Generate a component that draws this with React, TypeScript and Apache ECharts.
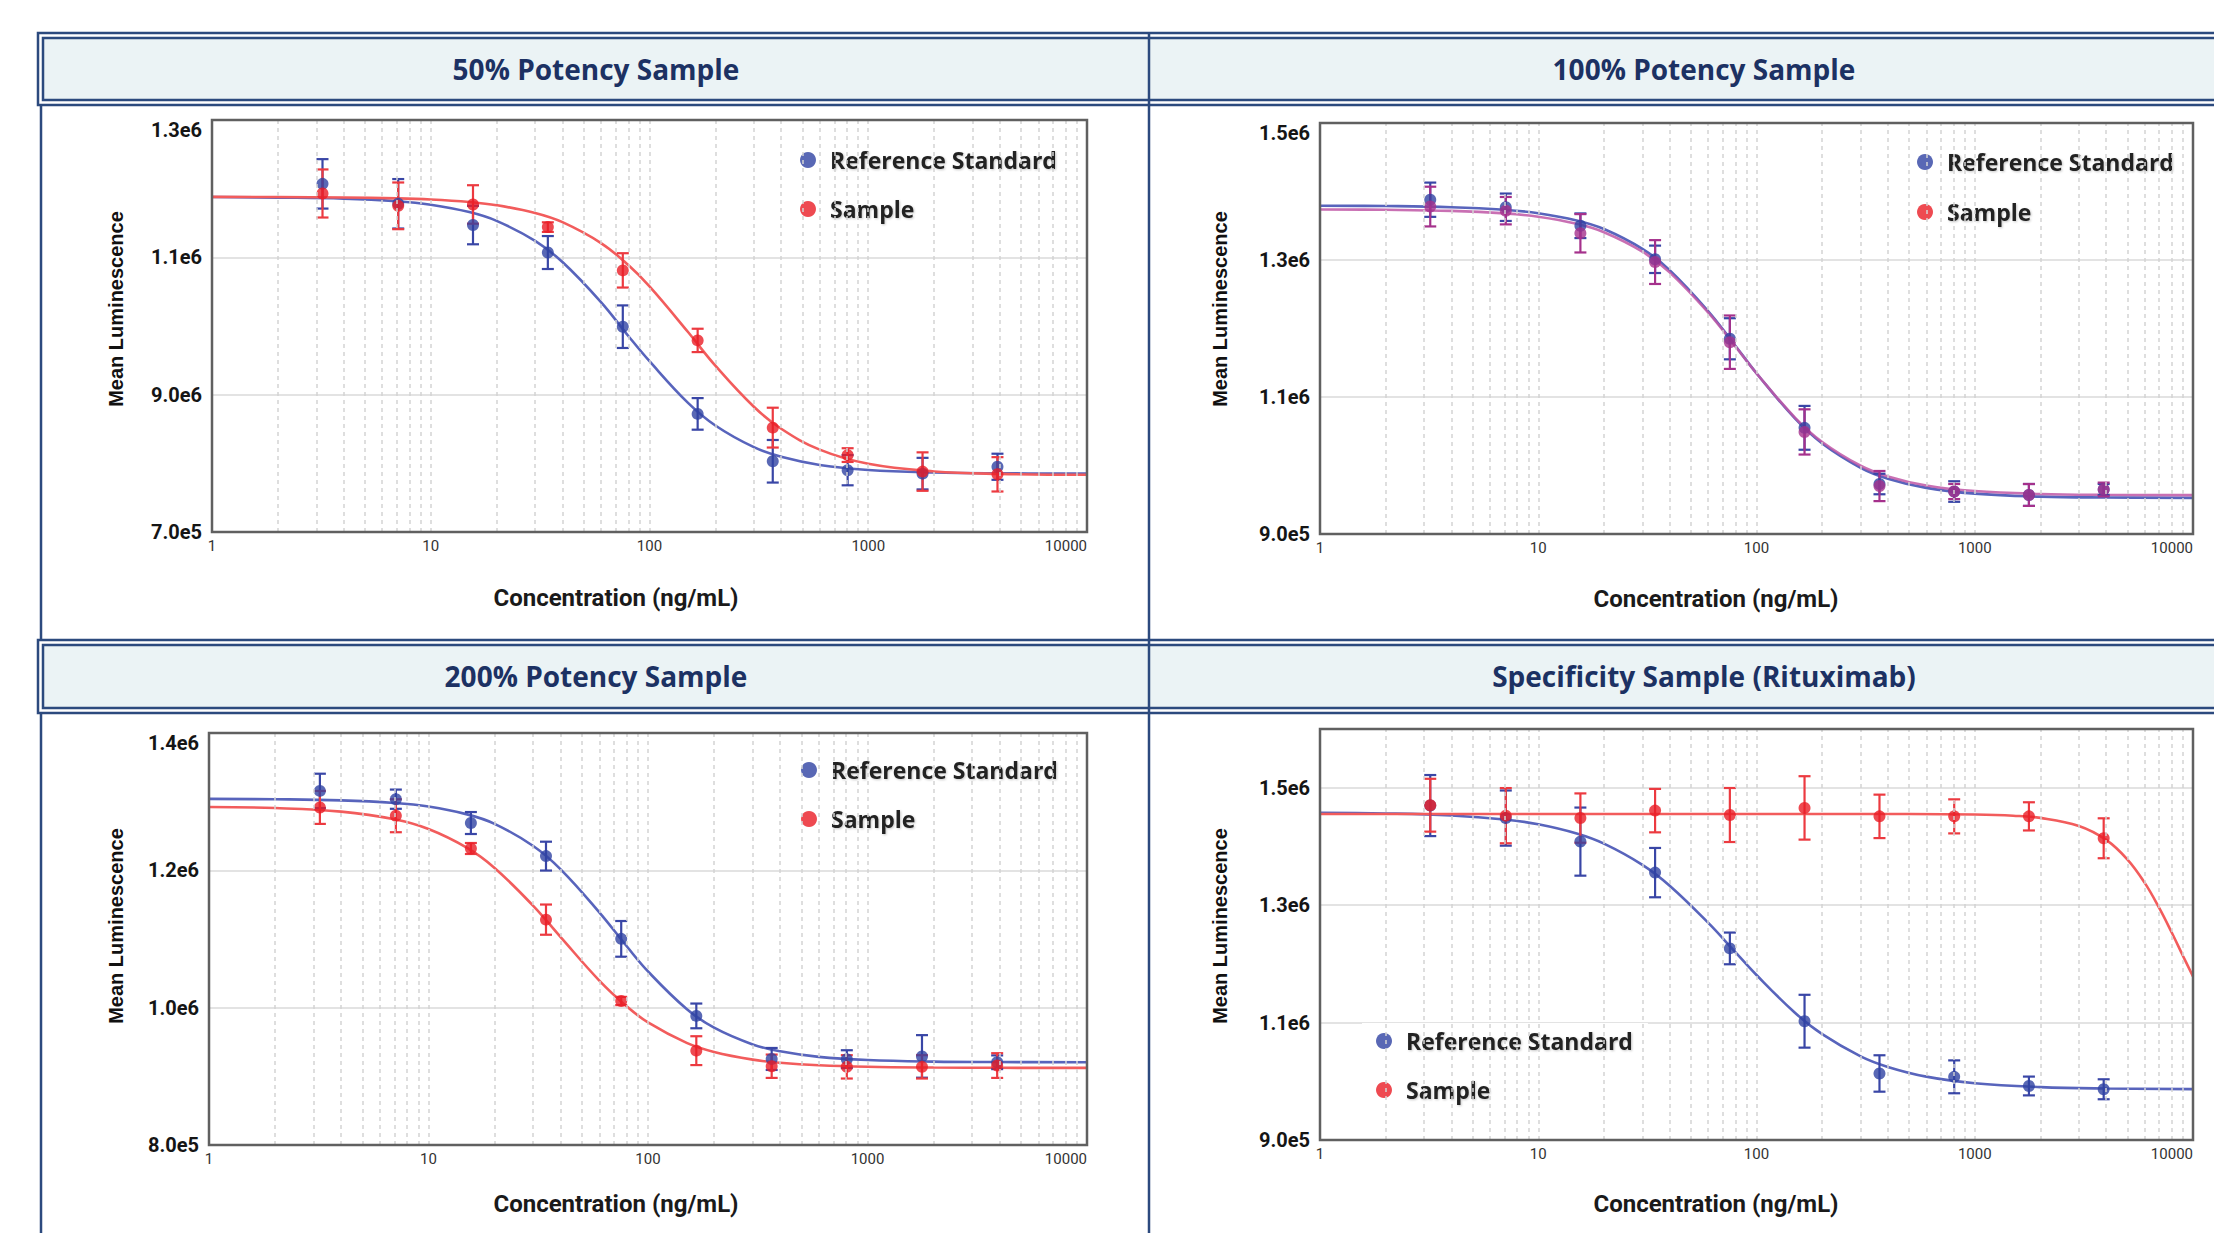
import React, { useEffect, useRef } from 'react';
import * as echarts from 'echarts';

// ---------- data ----------
const conc = [3.2, 7.1, 15.6, 34.3, 75.5, 166, 366, 805, 1771, 3897];
const fitX = [1, 2, 4, 7, 10, 15, 20, 30, 40, 60, 80, 100, 150, 200, 300, 400, 600, 1000, 2000, 4000, 10000];
const specSampleFitX = [1, 10, 100, 300, 500, 1000, 1500, 2000, 3000, 4000, 5000, 6000, 7000, 8000, 9000, 10000];
const gridLineX = [2, 3, 4, 5, 6, 7, 8, 9, 10, 20, 30, 40, 50, 60, 70, 80, 90, 100, 200, 300, 400, 500, 600, 700, 800, 900, 1000, 2000, 3000, 4000, 5000, 6000, 7000, 8000, 9000];
const xTickLabels = ['1', '10', '100', '1000', '10000'];

const titles = ['50% Potency Sample', '100% Potency Sample', '200% Potency Sample', 'Specificity Sample (Rituximab)'];
const seriesNames = ['Reference Standard', 'Sample'];

// 50% potency
const p50YLabels = ['7.0e5', '9.0e6', '1.1e6', '1.3e6'];
const p50RefMean = [1.207e6, 1.178e6, 1.147e6, 1.107e6, 0.999e6, 0.872e6, 0.803e6, 0.790e6, 0.785e6, 0.795e6];
const p50RefErr = [36e3, 36e3, 28e3, 24e3, 31e3, 23e3, 31e3, 22e3, 23e3, 19e3];
const p50SamMean = [1.193e6, 1.175e6, 1.177e6, 1.144e6, 1.081e6, 0.979e6, 0.852e6, 0.812e6, 0.788e6, 0.784e6];
const p50SamErr = [35e3, 34e3, 28e3, 7e3, 25e3, 17e3, 29e3, 10e3, 28e3, 25e3];
const p50RefFit = [1.1878e6, 1.187e6, 1.1855e6, 1.1817e6, 1.1766e6, 1.1659e6, 1.1531e6, 1.124e6, 1.0931e6, 1.0348e6, 0.9855e6, 0.9487e6, 0.888e6, 0.8551e6, 0.8235e6, 0.8095e6, 0.7977e6, 0.7904e6, 0.7867e6, 0.7855e6, 0.7851e6];
const p50SamFit = [1.188e6, 1.1878e6, 1.1872e6, 1.1859e6, 1.1842e6, 1.1805e6, 1.1759e6, 1.1646e6, 1.1512e6, 1.1208e6, 1.0887e6, 1.0576e6, 0.9912e6, 0.9423e6, 0.8824e6, 0.8504e6, 0.8199e6, 0.7993e6, 0.7882e6, 0.7846e6, 0.7833e6];

// 100% potency
const p100YLabels = ['9.0e5', '1.1e6', '1.3e6', '1.5e6'];
const p100RefMean = [1.388e6, 1.377e6, 1.350e6, 1.301e6, 1.185e6, 1.055e6, 0.973e6, 0.962e6, 0.957e6, 0.965e6];
const p100RefErr = [25e3, 20e3, 18e3, 20e3, 30e3, 32e3, 15e3, 15e3, 16e3, 8e3];
const p100SamMean = [1.378e6, 1.372e6, 1.339e6, 1.297e6, 1.180e6, 1.049e6, 0.970e6, 0.962e6, 0.957e6, 0.965e6];
const p100SamErr = [29e3, 20e3, 28e3, 32e3, 39e3, 33e3, 22e3, 11e3, 16e3, 10e3];
const p100RefFit = [1.3793e6, 1.3788e6, 1.3771e6, 1.3733e6, 1.3683e6, 1.3578e6, 1.3453e6, 1.3163e6, 1.2853e6, 1.2255e6, 1.1749e6, 1.1347e6, 1.0687e6, 1.0322e6, 0.9967e6, 0.9808e6, 0.9673e6, 0.9589e6, 0.9546e6, 0.9533e6, 0.9528e6];
const p100SamFit = [1.3738e6, 1.3733e6, 1.3717e6, 1.368e6, 1.3631e6, 1.3528e6, 1.3405e6, 1.3122e6, 1.2819e6, 1.2234e6, 1.1739e6, 1.1346e6, 1.07e6, 1.0343e6, 0.9996e6, 0.9841e6, 0.9708e6, 0.9627e6, 0.9585e6, 0.9572e6, 0.9567e6];

// 200% potency
const p200YLabels = ['8.0e5', '1.0e6', '1.2e6', '1.4e6'];
const p200RefMean = [1.3157e6, 1.3036e6, 1.2689e6, 1.2207e6, 1.1002e6, 0.988e6, 0.9253e6, 0.925e6, 0.929e6, 0.9205e6];
const p200RefErr = [25e3, 14e3, 16e3, 21e3, 26e3, 18e3, 16e3, 13e3, 31e3, 10e3];
const p200SamMean = [1.2916e6, 1.2795e6, 1.2318e6, 1.1282e6, 1.0097e6, 0.9374e6, 0.9147e6, 0.9138e6, 0.9138e6, 0.9157e6];
const p200SamErr = [24e3, 24e3, 8e3, 22e3, 6e3, 21e3, 17e3, 17e3, 17e3, 18e3];
const p200RefFit = [1.304e6, 1.3035e6, 1.3019e6, 1.2981e6, 1.2929e6, 1.2815e6, 1.2677e6, 1.2355e6, 1.2015e6, 1.1388e6, 1.0894e6, 1.0528e6, 0.9981e6, 0.9709e6, 0.9465e6, 0.9365e6, 0.9284e6, 0.9237e6, 0.9214e6, 0.9208e6, 0.9205e6];
const p200SamFit = [1.2923e6, 1.2907e6, 1.2855e6, 1.2743e6, 1.2601e6, 1.2326e6, 1.2034e6, 1.1483e6, 1.1027e6, 1.0395e6, 1.0019e6, 0.9785e6, 0.9487e6, 0.9355e6, 0.9243e6, 0.9198e6, 0.9161e6, 0.9139e6, 0.9128e6, 0.9124e6, 0.9123e6];

// Specificity (Rituximab)
const specYLabels = ['9.0e5', '1.1e6', '1.3e6', '1.5e6'];
const specRefMean = [1.4696e6, 1.4483e6, 1.4082e6, 1.3554e6, 1.2263e6, 1.1023e6, 1.0133e6, 1.0076e6, 0.992e6, 0.9864e6];
const specRefErr = [52e3, 47e3, 58e3, 42e3, 27e3, 45e3, 31e3, 28e3, 16e3, 17e3];
const specSamMean = [1.4702e6, 1.4524e6, 1.4483e6, 1.461e6, 1.4535e6, 1.4656e6, 1.4512e6, 1.4512e6, 1.4512e6, 1.4139e6];
const specSamErr = [45e3, 47e3, 42e3, 37e3, 46e3, 54e3, 37e3, 29e3, 24e3, 34e3];
const specRefFit = [1.4574e6, 1.4562e6, 1.4528e6, 1.446e6, 1.4378e6, 1.4221e6, 1.4048e6, 1.3687e6, 1.3332e6, 1.2702e6, 1.22e6, 1.181e6, 1.1168e6, 1.0802e6, 1.0425e6, 1.0245e6, 1.0079e6, 0.9966e6, 0.9901e6, 0.9877e6, 0.9867e6];
const specSamFit = [1.4552e6, 1.4552e6, 1.4552e6, 1.4552e6, 1.4552e6, 1.4543e6, 1.4523e6, 1.4486e6, 1.4348e6, 1.4111e6, 1.378e6, 1.3383e6, 1.2953e6, 1.2529e6, 1.2134e6, 1.1784e6];

// ---------- styling ----------
const NAVY = '#2c4a7e';
const BLUE = '#2f42a3';
const BLUE_LINE = '#5864bc';
const BLUE_ERR = '#3946a6';
const RED = '#ea1d25';
const RED_LINE = '#f25c5c';
const RED_ERR = '#ec3a40';
const MAGENTA = '#a5318c';
const MAGENTA_LINE = '#bf57a6';

const panels = [
  {
    title: titles[0], titlePos: [596, 69], grid: [212, 120, 875, 412], yMin: 7e5, yMax: 1.3e6, yLabels: p50YLabels,
    ref: p50RefMean, refErr: p50RefErr, refFit: p50RefFit,
    sam: p50SamMean, samErr: p50SamErr, samFitX: fitX, samFit: p50SamFit,
    samColor: RED, samLine: RED_LINE, samErrColor: RED_ERR,
    legend: { left: 786, top: 124, padding: [22, 10, 6, 14], gap: 21 },
    yName: [116, 309], xName: [616, 598],
  },
  {
    title: titles[1], titlePos: [1704, 69], grid: [1320, 123, 873, 411], yMin: 9e5, yMax: 1.5e6, yLabels: p100YLabels,
    ref: p100RefMean, refErr: p100RefErr, refFit: p100RefFit,
    sam: p100SamMean, samErr: p100SamErr, samFitX: fitX, samFit: p100SamFit,
    samColor: MAGENTA, samLine: MAGENTA_LINE, samErrColor: MAGENTA,
    legend: { left: 1905, top: 127, padding: [21, 8, 6, 12], gap: 22 },
    yName: [1220, 309], xName: [1716, 599],
  },
  {
    title: titles[2], titlePos: [596, 676], grid: [209, 733, 878, 412], yMin: 8e5, yMax: 1.4e6, yLabels: p200YLabels,
    ref: p200RefMean, refErr: p200RefErr, refFit: p200RefFit,
    sam: p200SamMean, samErr: p200SamErr, samFitX: fitX, samFit: p200SamFit,
    samColor: RED, samLine: RED_LINE, samErrColor: RED_ERR,
    legend: { left: 786, top: 737, padding: [19, 10, 6, 15], gap: 21 },
    yName: [116, 926], xName: [616, 1204],
  },
  {
    title: titles[3], titlePos: [1704, 676], grid: [1320, 729, 873, 411], yMin: 9e5, yMax: 1.6e6, yLabels: specYLabels,
    ref: specRefMean, refErr: specRefErr, refFit: specRefFit,
    sam: specSamMean, samErr: specSamErr, samFitX: specSampleFitX, samFit: specSamFit,
    samColor: RED, samLine: RED_LINE, samErrColor: RED_ERR,
    legend: { left: 1362, top: 1023, padding: [4, 15, 4, 14], gap: 21 },
    yName: [1220, 926], xName: [1716, 1204],
  },
];

const errBar = (color: string) => (_params: any, api: any) => {
  const x = api.value(0);
  const y = api.value(1);
  const e = api.value(2);
  const hi = api.coord([x, y + e]);
  const lo = api.coord([x, y - e]);
  const hw = 6;
  const style = { stroke: color, lineWidth: 2.2 };
  return {
    type: 'group',
    children: [
      { type: 'line', shape: { x1: hi[0], y1: hi[1], x2: lo[0], y2: lo[1] }, style },
      { type: 'line', shape: { x1: hi[0] - hw, y1: hi[1], x2: hi[0] + hw, y2: hi[1] }, style },
      { type: 'line', shape: { x1: lo[0] - hw, y1: lo[1], x2: lo[0] + hw, y2: lo[1] }, style },
    ],
  };
};

function textEl(text: string, x: number, y: number, size: number, family: string, color: string, rotation = 0) {
  return {
    type: 'text', x, y, rotation, silent: true, z: 10,
    style: {
      text, fontSize: size, fontWeight: 'bold', fontFamily: family, fill: color,
      align: 'center', verticalAlign: 'middle', textAlign: 'center', textVerticalAlign: 'middle',
    },
  };
}

function buildOption() {
  const grid: any[] = [];
  const xAxis: any[] = [];
  const yAxis: any[] = [];
  const series: any[] = [];
  const legend: any[] = [];
  const graphic: any[] = [];

  // frame & header bands
  [[33, 105], [640, 713]].forEach(([y0, y1]) => {
    graphic.push({ type: 'rect', silent: true, z: 1, shape: { x: 38, y: y0, width: 2300, height: y1 - y0 }, style: { fill: '#ffffff', stroke: NAVY, lineWidth: 2.5 } });
    graphic.push({ type: 'rect', silent: true, z: 2, shape: { x: 43, y: y0 + 5, width: 2300, height: y1 - y0 - 10 }, style: { fill: '#ebf3f5', stroke: NAVY, lineWidth: 2.5 } });
  });
  graphic.push({ type: 'line', silent: true, z: 3, shape: { x1: 41, y1: 105, x2: 41, y2: 640 }, style: { stroke: NAVY, lineWidth: 2.5 } });
  graphic.push({ type: 'line', silent: true, z: 3, shape: { x1: 41, y1: 713, x2: 41, y2: 1233 }, style: { stroke: NAVY, lineWidth: 2.5 } });
  graphic.push({ type: 'line', silent: true, z: 3, shape: { x1: 1149, y1: 33, x2: 1149, y2: 1233 }, style: { stroke: NAVY, lineWidth: 2.5 } });

  panels.forEach((p, i) => {
    graphic.push(textEl(p.title, p.titlePos[0], p.titlePos[1], 28, '"Open Sans", sans-serif', '#1c3163'));
    graphic.push(textEl('Mean Luminescence', p.yName[0], p.yName[1], 20, '"Liberation Sans", Arial, sans-serif', '#111111', Math.PI / 2));
    graphic.push(textEl('Concentration (ng/mL)', p.xName[0], p.xName[1], 24, 'Roboto, sans-serif', '#1a1a1a'));

    grid.push({
      left: p.grid[0], top: p.grid[1], width: p.grid[2], height: p.grid[3],
      show: true, borderColor: '#606060', borderWidth: 2.5, backgroundColor: 'transparent', z: 6,
    });
    xAxis.push({
      type: 'log', logBase: 10, gridIndex: i, min: 1, max: 10000,
      axisLine: { show: false }, axisTick: { show: false }, splitLine: { show: false },
      axisLabel: {
        formatter: (v: number) => xTickLabels[Math.round(Math.log10(v))] ?? '',
        fontSize: 15, fontFamily: 'Roboto, sans-serif', color: '#333333', margin: 6, alignMaxLabel: 'right',
      },
    });
    yAxis.push({
      type: 'value', gridIndex: i, min: p.yMin, max: p.yMax, interval: 2e5,
      axisLine: { show: false }, axisTick: { show: false },
      splitLine: { show: true, lineStyle: { color: '#e3e3e3', width: 2 } },
      axisLabel: {
        formatter: (v: number) => {
          const k = (v - p.yMin) / 2e5;
          return Math.abs(k - Math.round(k)) < 1e-6 ? (p.yLabels[Math.round(k)] ?? '') : '';
        },
        fontSize: 20, fontWeight: 'bold', fontFamily: 'Roboto, sans-serif', color: '#151515', margin: 10,
        verticalAlignMaxLabel: 'top',
      },
    });

    // vertical dashed gridlines
    series.push({
      type: 'line', xAxisIndex: i, yAxisIndex: i, data: [[1, p.yMin]], symbol: 'none', silent: true,
      lineStyle: { opacity: 0 }, z: 1,
      markLine: {
        silent: true, symbol: ['none', 'none'], label: { show: false },
        lineStyle: { type: [4, 4], color: '#d4d4d4', width: 1.5 },
        data: gridLineX.map((v) => ({ xAxis: v })),
      },
    });
    series.push({
      type: 'line', name: 'Reference Standard fit', xAxisIndex: i, yAxisIndex: i, silent: true,
      data: fitX.map((x, k) => [x, p.refFit[k]]), smooth: 0.4, symbol: 'none',
      lineStyle: { color: BLUE_LINE, width: 2.6 }, z: 2,
    });
    series.push({
      type: 'line', name: 'Sample fit', xAxisIndex: i, yAxisIndex: i, silent: true,
      data: p.samFitX.map((x, k) => [x, p.samFit[k]]), smooth: 0.4, symbol: 'none',
      lineStyle: { color: p.samLine, width: 2.6, opacity: i === 1 ? 0.85 : 1 }, z: 2,
    });
    series.push({
      type: 'custom', xAxisIndex: i, yAxisIndex: i, silent: true, z: 3,
      data: conc.map((c, k) => [c, p.ref[k], p.refErr[k]]), encode: { x: 0, y: 1 },
      renderItem: errBar(BLUE_ERR),
    });
    series.push({
      type: 'scatter', name: seriesNames[0], xAxisIndex: i, yAxisIndex: i, z: 3,
      data: conc.map((c, k) => [c, p.ref[k]]), symbol: 'circle', symbolSize: 12, itemStyle: { color: BLUE },
    });
    series.push({
      type: 'custom', xAxisIndex: i, yAxisIndex: i, silent: true, z: 3,
      data: conc.map((c, k) => [c, p.sam[k], p.samErr[k]]), encode: { x: 0, y: 1 },
      renderItem: errBar(p.samErrColor),
    });
    series.push({
      type: 'scatter', name: seriesNames[1], xAxisIndex: i, yAxisIndex: i, z: 3,
      data: conc.map((c, k) => [c, p.sam[k]]), symbol: 'circle', symbolSize: 12, itemStyle: { color: p.samColor },
    });

    legend.push({
      orient: 'vertical', left: p.legend.left, top: p.legend.top, padding: p.legend.padding,
      itemGap: p.legend.gap, backgroundColor: '#ffffff', itemWidth: 16, itemHeight: 16, icon: 'circle',
      selectedMode: false, z: 5,
      textStyle: {
        fontFamily: '"Open Sans", sans-serif', fontWeight: 'bold', fontSize: 23, color: '#222222', lineHeight: 28,
        padding: [0, 0, 0, 9],
        textShadowColor: 'rgba(0,0,0,0.22)', textShadowBlur: 2, textShadowOffsetX: 1, textShadowOffsetY: 1,
      },
      data: [
        { name: seriesNames[0], itemStyle: { color: BLUE } },
        { name: seriesNames[1], itemStyle: { color: RED } },
      ],
    });
  });

  return {
    animation: false,
    backgroundColor: '#ffffff',
    grid, xAxis, yAxis, series, legend, graphic,
  };
}

export default function App() {
  const ref = useRef<HTMLDivElement>(null);
  useEffect(() => {
    document.body.style.margin = '0';
    if (!ref.current) return;
    const chart = echarts.init(ref.current, undefined, { renderer: 'svg' });
    chart.setOption(buildOption() as any);
    return () => chart.dispose();
  }, []);
  return <div ref={ref} style={{ width: 2214, height: 1233, position: 'absolute', left: 0, top: 0 }} />;
}
